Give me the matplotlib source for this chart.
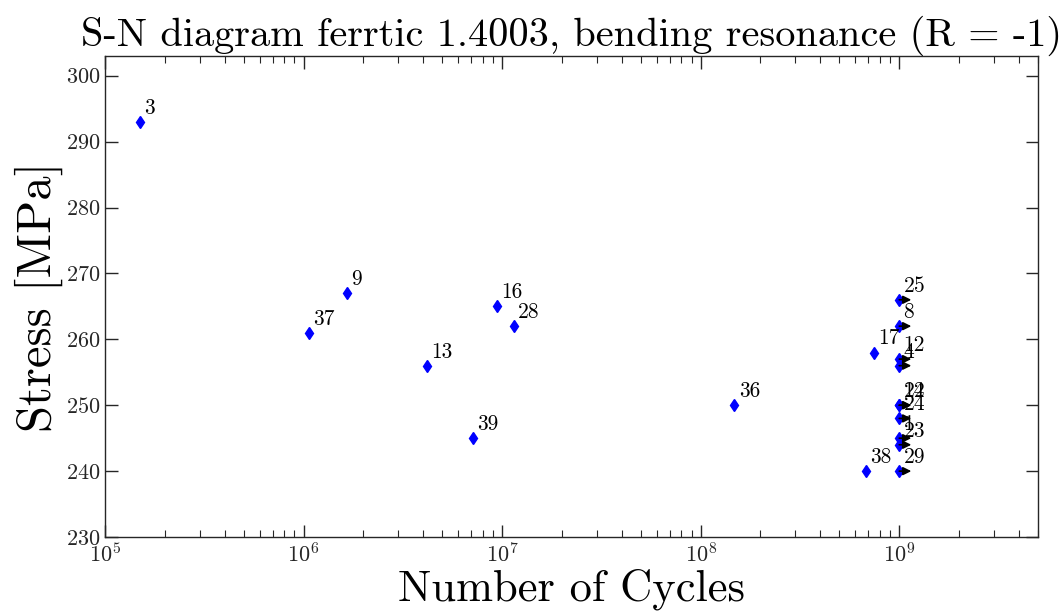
import matplotlib
matplotlib.use("Agg")
import matplotlib.pyplot as plt
from matplotlib.ticker import LogLocator, NullFormatter

plt.rcParams["font.family"] = "serif"
plt.rcParams["font.serif"] = ["cmr10"]
plt.rcParams["mathtext.fontset"] = "cm"
plt.rcParams["axes.formatter.use_mathtext"] = True
plt.rcParams["axes.unicode_minus"] = False

# specimen number, cycles to failure, stress amplitude
specimen = ["3", "37", "9", "13", "39", "16", "28", "36", "17", "38",
            "25", "8", "12", "4", "22", "14", "24", "1", "23", "29"]
cycles = [1.5e5, 1.07e6, 1.65e6, 4.2e6, 7.1e6, 9.4e6, 1.15e7, 1.48e8, 7.5e8, 6.8e8,
          1e9, 1e9, 1e9, 1e9, 1e9, 1e9, 1e9, 1e9, 1e9, 1e9]
stress = [293, 261, 267, 256, 245, 265, 262, 250, 258, 240,
          266, 262, 257, 256, 250, 250, 248, 245, 244, 240]
runout = [False] * 10 + [True] * 10

fig = plt.figure(figsize=(10.63, 6.15), dpi=100)
ax = fig.add_axes([0.0988, 0.1268, 0.8777, 0.7822])

ax.plot(cycles, stress, linestyle="none", marker="d", color="blue", markersize=6.5)

# runouts get a small arrow pointing to longer life
for n, s, r in zip(cycles, stress, runout):
    if r:
        ax.annotate("", xy=(n * 1.15, s), xytext=(n, s),
                    arrowprops=dict(arrowstyle="-|>", color="black", lw=1.2,
                                    mutation_scale=12, shrinkA=0, shrinkB=0))

for lab, n, s in zip(specimen, cycles, stress):
    ax.annotate(lab, xy=(n, s), xytext=(3, 3), textcoords="offset points",
                fontsize=15.5, ha="left", va="bottom")

ax.set_xscale("log")
ax.set_xlim(1e5, 5e9)
ax.set_ylim(230, 303)
ax.set_yticks(range(230, 301, 10))
ax.xaxis.set_major_locator(LogLocator(base=10, numticks=12))
ax.xaxis.set_minor_locator(LogLocator(base=10, subs=range(2, 10), numticks=12))
ax.xaxis.set_minor_formatter(NullFormatter())

ax.tick_params(which="both", direction="in", top=True, right=True, labelsize=16,
               color="#262626", labelcolor="#262626")
ax.tick_params(which="major", length=9, width=1)
ax.tick_params(which="minor", length=5, width=0.8)
for sp in ax.spines.values():
    sp.set_color("#262626")
    sp.set_linewidth(1)

ax.set_xlabel("Number of Cycles", fontsize=32, labelpad=2)
ax.set_ylabel("Stress [MPa]", fontsize=35, labelpad=2)
ax.set_title("S-N diagram ferrtic 1.4003, bending resonance (R = -1)", fontsize=29, pad=4)

fig.savefig("out.png", dpi=100)
